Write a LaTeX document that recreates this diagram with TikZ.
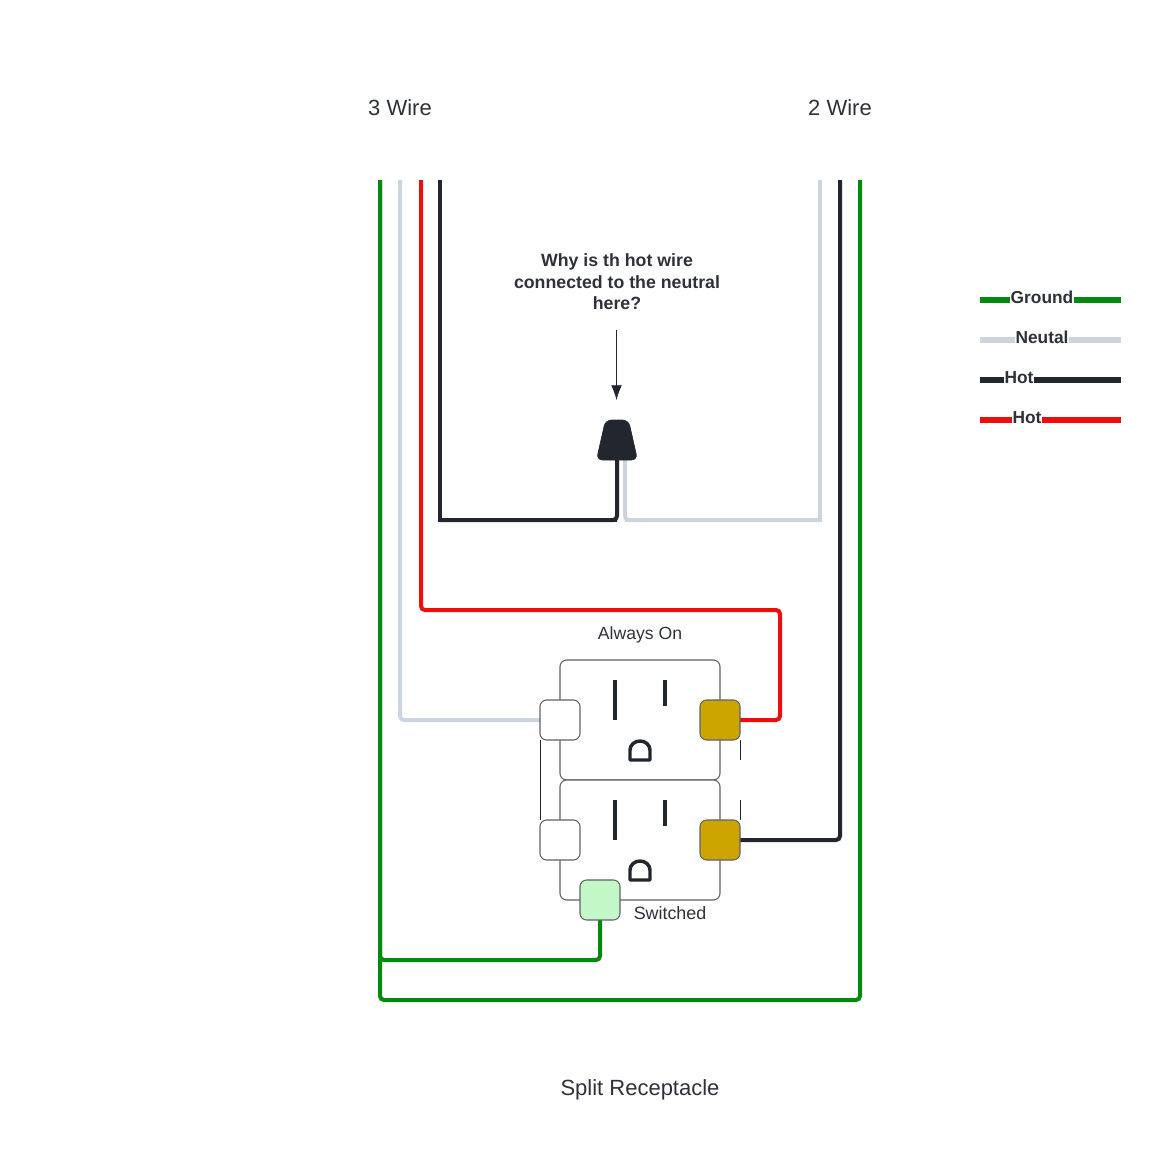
\documentclass[tikz,border=0pt]{standalone}
\usepackage{fontspec}
\setmainfont{Liberation Sans}
\usepackage{xcolor}
\usetikzlibrary{shapes.geometric,arrows.meta}
\definecolor{wblack}{HTML}{22262F}
\definecolor{wgrey}{HTML}{CED4DE}
\definecolor{wgreen}{HTML}{008A0E}
\definecolor{wred}{HTML}{EE0C0C}
\definecolor{wgold}{HTML}{CCA500}
\definecolor{wmint}{HTML}{C3F7C8}
\definecolor{wtext}{HTML}{2E3138}
\definecolor{wedge}{HTML}{5F6266}

\begin{document}
\begin{tikzpicture}[x=0.75pt,y=-0.75pt,>={Latex[length=11pt,width=8pt]}]
    \tikzstyle{wire} = [line width=3pt, rounded corners=3pt]
    \tikzstyle{legendline} = [line width=3.8pt]
    \tikzstyle{title} = [text=wtext, font=\fontsize{16.5pt}{20pt}\selectfont, inner sep=0pt]
    \tikzstyle{small} = [text=wtext, font=\fontsize{13.2pt}{16pt}\selectfont, inner sep=0pt]
    \tikzstyle{bold} = [text=wtext, font=\bfseries\fontsize{13.3pt}{16pt}\selectfont, align=center, inner sep=0pt]
    \tikzstyle{legendtext} = [text=wtext, fill=white, font=\bfseries\fontsize{13pt}{14pt}\selectfont, inner sep=0.2pt]
    \tikzstyle{outlet} = [draw=wedge, fill=white, shape=rectangle, minimum width=120pt, minimum height=90pt, rounded corners=5pt, line width=0.8pt, inner sep=0pt]
    \tikzstyle{terminal} = [draw=wedge, shape=rectangle, minimum size=30pt, rounded corners=5pt, line width=0.8pt, inner sep=0pt]
    \tikzstyle{slot} = [fill=wblack, shape=rectangle, minimum width=3pt, inner sep=0pt]
    \tikzstyle{tab} = [line width=0.7pt, draw=wblack]
    \useasboundingbox (0,0) rectangle (1161,1160);
    %Creating Free Wire Ends
    \coordinate (groundA) at (380,180);
    \coordinate (neutralA) at (400,180);
    \coordinate (redA) at (421,180);
    \coordinate (hotA) at (440,180);
    \coordinate (neutralB) at (820,180);
    \coordinate (hotB) at (840,180);
    \coordinate (groundB) at (860,180);
    \coordinate (redCornerA) at (421,610);
    \coordinate (redCornerB) at (780,610);
    \coordinate (hotCorner) at (440,520);
    \coordinate (hotTurn) at (617,520);
    \coordinate (neutralCorner) at (820,520);
    \coordinate (neutralTurn) at (625,520);
    \coordinate (joinHot) at (617,460);
    \coordinate (joinNeutral) at (625,460);
    \coordinate (groundC) at (380,960);
    \coordinate (groundD) at (380,1000);
    \coordinate (groundE) at (860,1000);
    \coordinate (arrowTop) at (616.5,330);
    \coordinate (arrowEnd) at (616.5,400);
    %Creating Titles
    \node [title] (wireL) at (400,108) {3 Wire};
    \node [title] (wireR) at (840,108) {2 Wire};
    \node [title] (caption) at (640,1090) {Split Receptacle};
    \node [bold] (question) at (617,282) {Why is th hot wire\\[0.2pt]connected to the neutral\\[0.2pt]here?};
    \node [small] (alwaysOn) at (640,635) {Always On};
    %Creating Wires
    \draw[wire,wblack,sharp corners] (hotA) -- (hotCorner) -- (hotTurn);
    \draw[wire,wblack] (hotCorner) -- (hotTurn) -- (joinHot);
    \draw[wire,wgrey,sharp corners] (neutralB) -- (neutralCorner) -- (neutralTurn);
    \draw[wire,wgrey] (neutralCorner) -- (neutralTurn) -- (joinNeutral);
    \draw[wire,wgreen] (groundB) -- (groundE) -- (groundD) -- (groundA);
    \draw[wire,wgreen] (groundA) -- (groundC) -- (600,960) -- (600,920);
    \draw[wire,wred] (redA) -- (redCornerA) -- (redCornerB) -- (780,720) -- (740,720);
    \draw[wire,wgrey] (neutralA) -- (400,720) -- (540,720);
    \draw[wire,wblack] (hotB) -- (840,840) -- (740,840);
    %Creating Receptacle
    \node [outlet] (upper) at (640,720) {};
    \node [outlet] (lower) at (640,840) {};
    \foreach \name/\y in {U/720,L/840} {
        \node [slot, minimum height=30pt] (slotA\name) at (615,\y-20) {};
        \node [slot, minimum height=20pt] (slotB\name) at (665,\y-27) {};
        \draw[line width=2.6pt, wblack, line join=round] (630,\y+40) -- (630,\y+30) arc (180:360:10 and 9) -- (650,\y+40) -- cycle;
    }
    \node [terminal, fill=white] (whiteU) at (560,720) {};
    \node [terminal, fill=wgold] (goldU) at (720,720) {};
    \node [terminal, fill=white] (whiteL) at (560,840) {};
    \node [terminal, fill=wgold] (goldL) at (720,840) {};
    \node [terminal, fill=wmint] (groundT) at (600,900) {};
    \node [small, font=\fontsize{13.4pt}{16pt}\selectfont] (switched) at (670,913) {Switched};
    %Conecting Terminals
    \draw[tab] (540,740) -- (540,820);
    \coordinate (tabU) at (740,760);
    \coordinate (tabL) at (740,800);
    \draw[tab] (740,740) -- (tabU);
    \draw[tab] (tabL) -- (740,820);
    %Creating Wire Nut
    \draw[fill=wblack, draw=wblack, line width=0.5pt, rounded corners=4.5pt] (605.5,420) -- (628.5,420) -- (637.5,460) -- (596.5,460) -- cycle;
    \draw[line width=0.6pt, wblack, ->] (arrowTop) -- (arrowEnd);
    %Creating Legend
    \foreach \name/\y/\col in {ground/300/wgreen, neutral/340/wgrey, hot/380/wblack, red/420/wred} {
        \coordinate (\name L) at (980,\y);
        \coordinate (\name R) at (1121,\y);
        \draw[legendline,\col] (\name L) -- (\name R);
    }
    \node [legendtext] (groundLabel) at (1042,297.5) {Ground};
    \node [legendtext] (neutralLabel) at (1042,337.5) {Neutal};
    \node [legendtext] (hotLabel) at (1019,377.5) {Hot};
    \node [legendtext] (redLabel) at (1027,417.5) {Hot};
\end{tikzpicture}
\end{document}
